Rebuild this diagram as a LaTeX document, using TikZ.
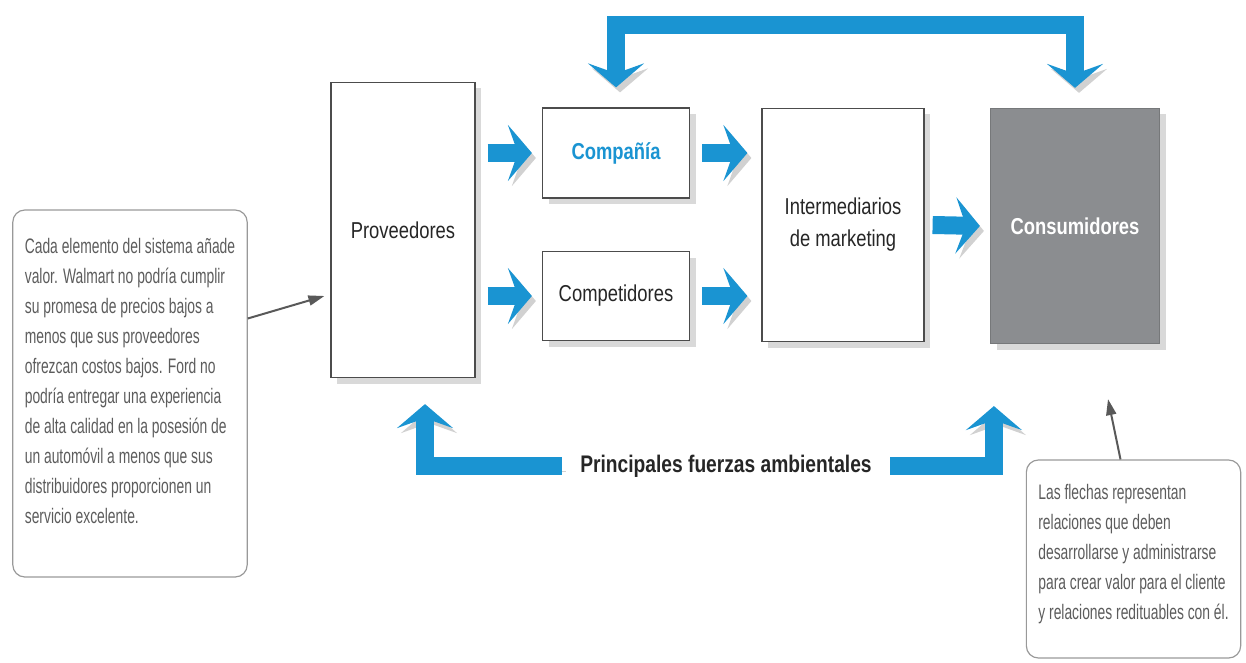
\documentclass[tikz,border=0pt]{standalone}
\usepackage{fontspec}
\setmainfont{Liberation Sans}
\newfontfamily\boxfont[FakeStretch=0.8]{Liberation Sans}
\newfontfamily\notefont[FakeStretch=0.66]{Liberation Sans}
\usetikzlibrary{arrows.meta,positioning,shadows}
\definecolor{azul}{HTML}{1A94D2}
\definecolor{grisbox}{HTML}{8B8D90}
\definecolor{gristexto}{HTML}{5C5C5C}

\tikzset{
  caja/.style={draw=black!70, line width=0.6pt, fill=white, inner sep=0pt,
    font=\boxfont\fontsize{11.5}{16}\selectfont, text=black!85, align=center,
    drop shadow={shadow xshift=3pt, shadow yshift=-3pt, opacity=0.3}},
  >={Stealth[length=12pt, width=28pt, inset=5pt]},
  flecha/.style={draw=azul, line width=9pt, line join=miter, ->,
    preaction={draw=black!18, transform canvas={shift={(2pt,-2.5pt)}}}},
  nota/.style={draw=black!40, rounded corners=6pt, line width=0.6pt, text=gristexto,
    align=left, inner sep=6pt, font=\notefont\fontsize{10.5}{15}\selectfont},
  notaflecha/.style={draw=black!65, line width=1pt, -{Triangle[length=8pt, width=5pt]}}
}

\begin{document}
\begin{tikzpicture}[x=0.5pt, y=-0.5pt]
  \useasboundingbox (0,0) rectangle (1246,663);

  % cajas del sistema
  \node[caja, minimum width=72pt, minimum height=147.5pt] (prov) at (403,230) {Proveedores};
  \node[caja, minimum width=73.5pt, minimum height=45pt, text=azul, font=\boxfont\bfseries\fontsize{11.5}{16}\selectfont] (compania) at (616,153) {Compañía};
  \node[caja, minimum width=73.5pt, minimum height=44.5pt] (compet) at (616,296) {Competidores};
  \node[caja, minimum width=81pt, minimum height=116.5pt] (interm) at (843,225) {Intermediarios\\de marketing};
  \node[caja, minimum width=84.5pt, minimum height=117.5pt, fill=grisbox, draw=grisbox!85!black, text=white,
    font=\boxfont\bfseries\fontsize{11.5}{16}\selectfont] (consum) at (1075,226) {Consumidores};

  % flechas
  \draw[flecha] ([xshift=6pt]prov.east |- compania) -- ([xshift=-5pt]compania.west);
  \draw[flecha] ([xshift=6pt]prov.east |- compet) -- ([xshift=-5pt]compet.west);
  \draw[flecha] ([xshift=6pt]compania.east) -- ([xshift=-7pt]interm.west |- compania);
  \draw[flecha] ([xshift=6pt]compet.east) -- ([xshift=-7pt]interm.west |- compet);
  \draw[flecha] ([xshift=4pt]interm.east) -- ([xshift=-5pt]consum.west);

  \coordinate (arriba) at (845,25);
  \draw[flecha, <->] ([yshift=10pt]compania.north) |- (arriba) -| ([yshift=10pt]consum.north);

  \node[font=\boxfont\bfseries\fontsize{12}{14}\selectfont, text=black!85, inner xsep=9pt] (fuerzas) at (726,466) {Principales fuerzas ambientales};
  \draw[flecha] (fuerzas.west) -| ([xshift=11pt, yshift=-13pt]prov.south);
  \draw[flecha] (fuerzas.east) -| ([xshift=2pt, yshift=-31pt]consum.south west);

  % notas
  \node[nota, minimum width=115pt, minimum height=183.5pt, text depth=13pt] (nota1) at (130,393.5)
    {Cada elemento del sistema añade\\valor. Walmart no podría cumplir\\su promesa de precios bajos a\\menos que sus proveedores\\ofrezcan costos bajos. Ford no\\podría entregar una experiencia\\de alta calidad en la posesión de\\un automóvil a menos que sus\\distribuidores proporcionen un\\servicio excelente.};
  \node[nota, minimum width=106.5pt, minimum height=99pt, text depth=7pt] (nota2) at (1133.5,559)
    {Las flechas representan\\relaciones que deben\\desarrollarse y administrarse\\para crear valor para el cliente\\y relaciones redituables con él.};

  \draw[notaflecha] ([yshift=37.5pt]nota1.east) -- ([xshift=-3pt, yshift=-33pt]prov.west);
  \draw[notaflecha] ([xshift=-6.5pt]nota2.north) -- ([xshift=16.5pt, yshift=-27.5pt]consum.south);
\end{tikzpicture}
\end{document}
